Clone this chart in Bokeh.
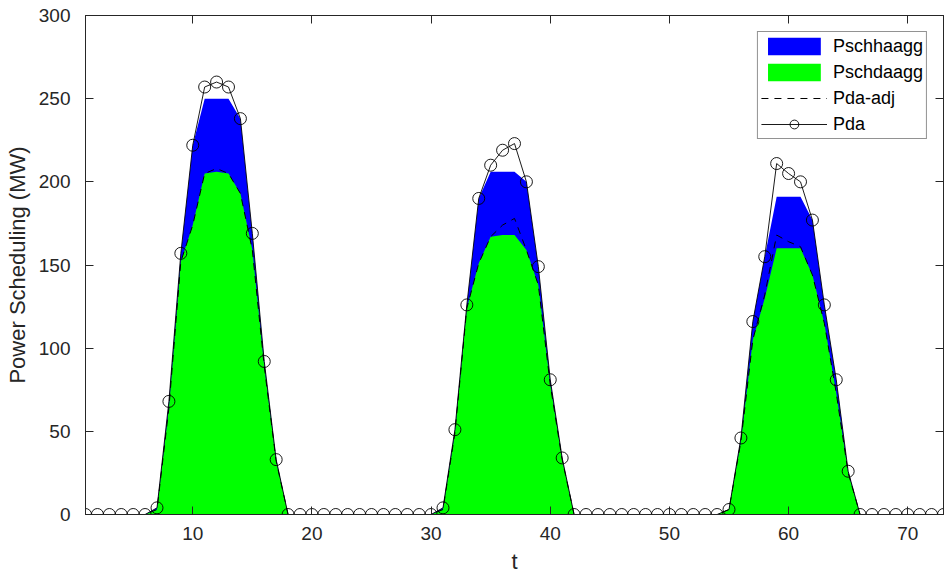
from bokeh.plotting import figure
from bokeh.models import (LinearAxis, FixedTicker, Range1d, ColumnDataSource,
                          Legend, LegendItem, CustomJSTickFormatter)
from bokeh.embed import file_html
from bokeh.resources import INLINE

# ---------------- data ----------------
t = list(range(1, 74))

# Pda (black line with open circles)
p_da = [0, 0, 0, 0, 0, 0,
        4, 68, 157, 222, 257, 260, 257, 238, 169, 92, 33,
        0, 0, 0, 0, 0, 0, 0, 0, 0, 0, 0, 0, 0,
        4, 51, 126, 190, 210, 219, 223, 200, 149, 81, 34,
        0, 0, 0, 0, 0, 0, 0, 0, 0, 0, 0, 0, 0,
        3, 46, 116, 155, 211, 205, 200, 177, 126, 81, 26,
        0, 0, 0, 0, 0, 0, 0, 0]

# Pschhaagg (blue area)
p_schha = [0, 0, 0, 0, 0, 0,
           4, 68, 157, 222, 250, 250, 250, 238, 169, 92, 33,
           0, 0, 0, 0, 0, 0, 0, 0, 0, 0, 0, 0, 0,
           4, 51, 126, 190, 206, 206, 206, 200, 149, 81, 34,
           0, 0, 0, 0, 0, 0, 0, 0, 0, 0, 0, 0, 0,
           3, 46, 116, 155, 191, 191, 191, 177, 126, 81, 26,
           0, 0, 0, 0, 0, 0, 0, 0]

# Pschdaagg (green area)
p_schda = [0, 0, 0, 0, 0, 0,
           3, 64, 152, 174, 205, 206, 205, 193, 159, 89, 32,
           0, 0, 0, 0, 0, 0, 0, 0, 0, 0, 0, 0, 0,
           3, 49, 124, 151, 167, 168, 168, 159, 138, 78, 33,
           0, 0, 0, 0, 0, 0, 0, 0, 0, 0, 0, 0, 0,
           3, 44, 105, 130, 160, 160, 160, 144, 115, 73, 25,
           0, 0, 0, 0, 0, 0, 0, 0]

# Pda-adj (dashed black)
p_da_adj = [0, 0, 0, 0, 0, 0,
            3, 64, 152, 174, 205, 208, 205, 193, 159, 89, 32,
            0, 0, 0, 0, 0, 0, 0, 0, 0, 0, 0, 0, 0,
            3, 49, 124, 151, 167, 174, 178, 159, 138, 78, 33,
            0, 0, 0, 0, 0, 0, 0, 0, 0, 0, 0, 0, 0,
            3, 44, 105, 132, 168, 164, 161, 144, 115, 73, 25,
            0, 0, 0, 0, 0, 0, 0, 0]

# red zero reference line
baseline = [0, 0, 0, 0, 0, 0, 0, 0, 0, 0, 0, 0, 0, 0, 0, 0, 0, 0, 0, 0,
            0, 0, 0, 0, 0, 0, 0, 0, 0, 0, 0, 0, 0, 0, 0, 0, 0, 0, 0, 0,
            0, 0, 0, 0, 0, 0, 0, 0, 0, 0, 0, 0, 0, 0, 0, 0, 0, 0, 0, 0,
            0, 0, 0, 0, 0, 0, 0, 0, 0, 0, 0, 0, 0]

x_ticks = [10, 20, 30, 40, 50, 60, 70]
y_ticks = [0, 50, 100, 150, 200, 250, 300]

FONT = "Liberation Sans"
AX = "#262626"

src = ColumnDataSource(dict(t=t, zero=baseline, ha=p_schha, da=p_schda,
                            adj=p_da_adj, pda=p_da))

p = figure(width=946, height=578, x_range=Range1d(1, 73), y_range=Range1d(0, 300),
           output_backend="svg", toolbar_location=None,
           min_border_left=85, min_border_right=3, min_border_top=15,
           min_border_bottom=64)
p.xgrid.visible = False
p.ygrid.visible = False
p.outline_line_color = AX
p.background_fill_color = "white"

r_blue = p.varea(x="t", y1="zero", y2="ha", source=src, fill_color="#0000ff")
r_green = p.varea(x="t", y1="zero", y2="da", source=src, fill_color="#00ff00")
r_adj = p.line("t", "adj", source=src, line_color="black", line_width=1,
               line_dash="7 6")
r_pda_line = p.line("t", "pda", source=src, line_color="black", line_width=0.9)
r_red = p.line("t", "zero", source=src, line_color="#ff0000", line_width=1)
r_pda_pts = p.scatter("t", "pda", source=src, marker="circle", size=12,
                      fill_color=None, line_color="black", line_width=0.9)

bottom = p.below[0]
left = p.left[0]
top = LinearAxis(formatter=CustomJSTickFormatter(code="return ''"))
right = LinearAxis(formatter=CustomJSTickFormatter(code="return ''"))
p.add_layout(top, "above")
p.add_layout(right, "right")

for ax, ticks in ((bottom, x_ticks), (top, x_ticks), (left, y_ticks), (right, y_ticks)):
    ax.ticker = FixedTicker(ticks=ticks)
    ax.axis_line_color = AX
    ax.major_tick_line_color = AX
    ax.major_tick_in = 8
    ax.major_tick_out = 0
    ax.minor_tick_line_color = None
    ax.major_label_text_font = FONT
    ax.major_label_text_font_size = "19px"
    ax.major_label_text_color = AX
    ax.axis_label_text_font = FONT
    ax.axis_label_text_font_size = "22px"
    ax.axis_label_text_font_style = "normal"
    ax.axis_label_text_color = AX

for ax in (top, right):
    ax.major_label_standoff = 0

bottom.axis_label = "t"
bottom.major_label_standoff = 12
bottom.axis_label_standoff = 6
left.axis_label = "Power Scheduling (MW)"
left.major_label_standoff = 15
left.axis_label_standoff = 6

legend = Legend(items=[
    LegendItem(label="Pschhaagg", renderers=[r_blue]),
    LegendItem(label="Pschdaagg", renderers=[r_green]),
    LegendItem(label="Pda-adj", renderers=[r_adj]),
    LegendItem(label="Pda", renderers=[r_pda_line, r_pda_pts]),
], location="top_right")
legend.label_text_font = FONT
legend.label_text_font_size = "18px"
legend.label_text_color = "black"
legend.glyph_width = 66
legend.glyph_height = 22
legend.label_height = 21
legend.label_standoff = 6
legend.padding = 3
legend.spacing = 4
legend.margin = 16
legend.border_line_color = AX
legend.border_line_width = 1
legend.background_fill_color = "white"
legend.background_fill_alpha = 1
p.add_layout(legend)

open("out.html", "w").write(file_html(p, INLINE))
